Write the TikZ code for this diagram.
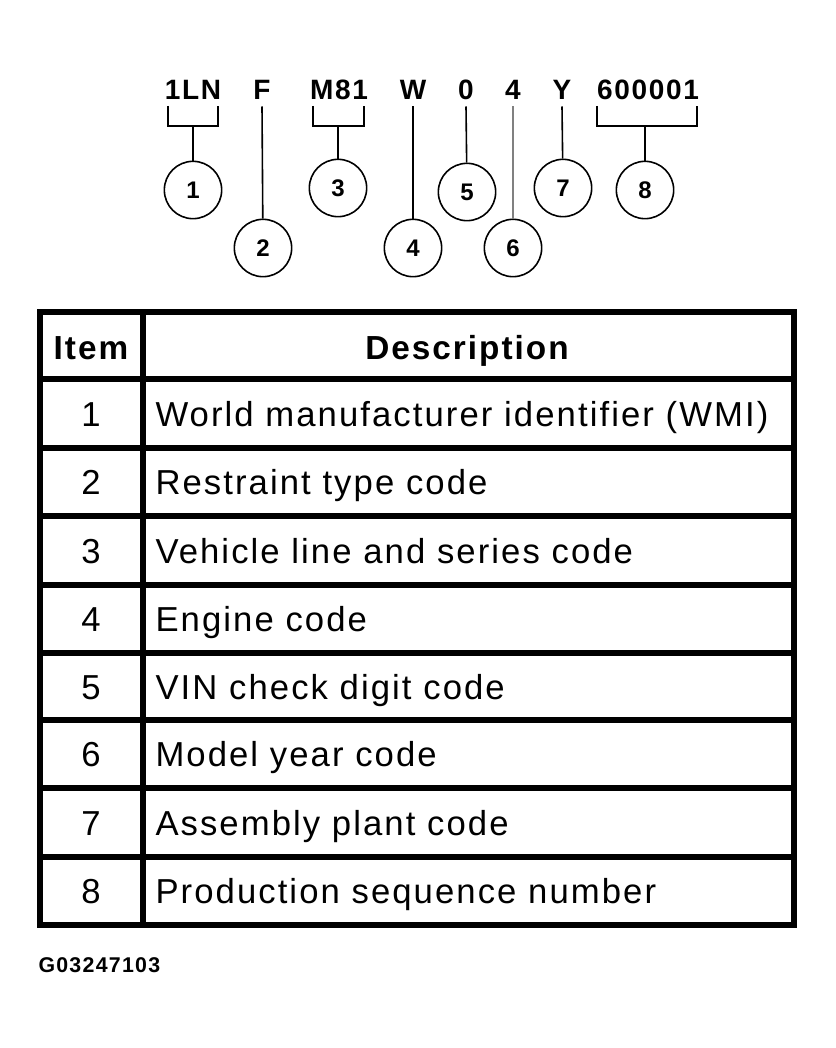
\documentclass[tikz,border=0pt]{standalone}
\usepackage{fontspec}
\setmainfont{Liberation Sans}[LetterSpace=6]
\tikzset{every picture/.style={line width=0.75pt}}
\begin{document}
\begin{tikzpicture}[x=0.75pt,y=0.75pt,yscale=-1,xscale=1,
  code/.style={font=\fontsize{21}{21}\selectfont\bfseries, inner sep=0pt, text height=15pt, text depth=0pt},
  callout/.style={circle, draw, line width=1.2pt, minimum size=43pt, inner sep=0pt, font=\fontsize{18}{18}\selectfont\bfseries},
  cell/.style={font=\fontsize{26}{26}\selectfont, inner sep=0pt, text height=19pt, text depth=0pt},
  head/.style={font=\fontsize{25}{25}\selectfont\bfseries, inner sep=0pt, text height=18pt, text depth=0pt}]
\useasboundingbox (0,0) rectangle (835,1048);

% VIN characters
\node [code] (c1) at (193,90) {1LN};
\node [code] (c2) at (262,90) {F};
\node [code] (c3) at (339,90) {M81};
\node [code] (c4) at (413,90) {W};
\node [code] (c5) at (466,90) {0};
\node [code] (c6) at (513,90) {4};
\node [code] (c7) at (562,90) {Y};
\node [code] (c8) at (648,90) {600001};

% Callouts
\node [callout] (n1) at (193,190) {1};
\node [callout] (n2) at (263,248) {2};
\node [callout] (n3) at (338,188) {3};
\node [callout] (n4) at (413,248) {4};
\node [callout] (n5) at (467,192) {5};
\node [callout] (n6) at (513,248) {6};
\node [callout] (n7) at (563,188) {7};
\node [callout] (n8) at (645,190) {8};

% Brackets and leaders
\draw [line width=1.2pt] (168,106) |- (218,126) -- (218,106);
\draw [line width=1.2pt] (n1) -- (193,126);
\draw [line width=1.2pt] (313,106) |- (364,126) -- (364,106);
\draw [line width=1.2pt] (n3) -- (338,126);
\draw [line width=1.2pt] (597,106) |- (697,126) -- (697,106);
\draw [line width=1.2pt] (n8) -- (645,126);
\draw [line width=1.2pt] (c2.south) ++(0,6) coordinate (t2) (t2) -- (n2);
\draw [line width=1.2pt] (c4.south) ++(0,6) coordinate (t4) (t4) -- (n4);
\draw [line width=1.2pt] (c5.south) ++(0,6) coordinate (t5) (t5) -- (n5);
\draw [line width=1.5pt, gray] (c6.south) ++(0,6) coordinate (t6) (t6) -- (n6);
\draw [line width=1.2pt] (c7.south) ++(0,6) coordinate (t7) (t7) -- (n7);

% Table
\draw [line width=4pt] (40,312) rectangle (794,925);
\draw [line width=4pt] (143,312) -- (143,925);
\foreach \y in {379,448,516,585,653,720,788,857}
  \draw [line width=4pt] (40,\y) -- (794,\y);
\node [head] (hi) at (91,347) {Item};
\node [head] (hd) at (467,347) {Description};
\foreach \i/\t [count=\k] in {1/World manufacturer identifier (WMI),2/Restraint type code,3/Vehicle line and series code,4/Engine code,5/VIN check digit code,6/Model year code,7/Assembly plant code,8/Production sequence number}{
  \pgfmathsetmacro\yc{{0,413.5,482,550.5,619,686.5,754,822.5,891}[\k]}
  \node [cell] (i\k) at (91,\yc) {\i};
  \node [cell, anchor=west] (d\k) at (155,\yc) {\t};
}
\node [font=\fontsize{16}{16}\selectfont\bfseries, anchor=west, inner sep=0pt] (fig) at (38,965) {G03247103};
\end{tikzpicture}
\end{document}
